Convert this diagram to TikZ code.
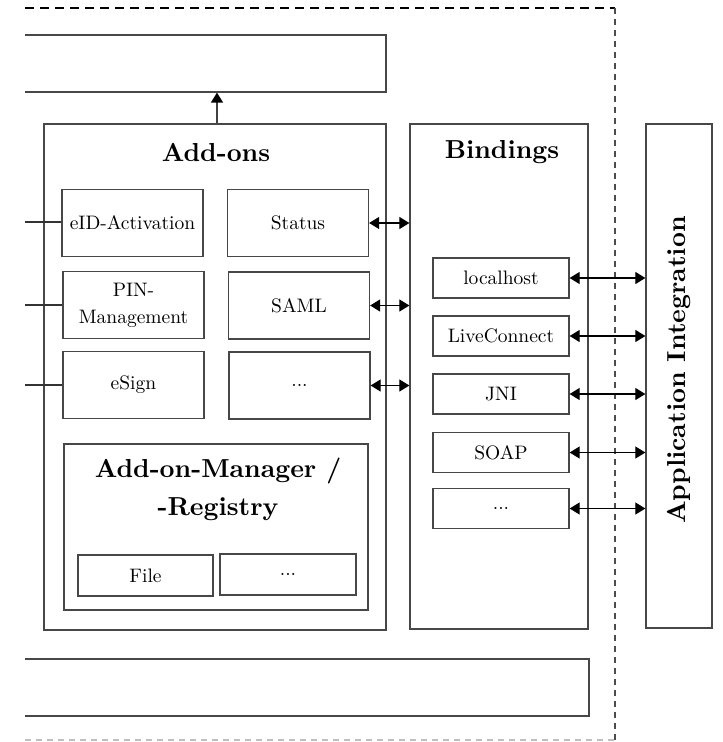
\documentclass[tikz,border=0pt]{standalone}
\usepackage{fontspec}
\setmainfont{lmroman10}[Extension=.otf,UprightFont=*-regular,BoldFont=*-bold,ItalicFont=*-italic,BoldItalicFont=*-bolditalic]
\usetikzlibrary{arrows.meta}
\begin{document}
\begin{tikzpicture}[x=1pt,y=-1pt,
  frame/.style={draw=black!72,line width=1.3pt},
  big/.style={font=\fontsize{26}{34}\selectfont\bfseries},
  small/.style={font=\fontsize{19.5}{27}\selectfont},
  part/.style={frame,small,minimum width=141pt,minimum height=67pt,inner sep=2pt,align=center},
  bind/.style={frame,small,minimum width=136pt,minimum height=40pt,inner sep=2pt},
  link/.style={draw=black,line width=1.2pt,{Triangle[length=10pt,width=12pt]}-{Triangle[length=10pt,width=12pt]}},
  up/.style={draw=black!75,line width=1.4pt,-{Triangle[length=10pt,width=12pt,fill=black,color=black]}}]
\useasboundingbox (0,0) rectangle (723,742);

% layer frames that continue past the left border
\begin{scope}
\clip (25,0) rectangle (723,742);
\node[frame,minimum width=381pt,minimum height=57pt] (toplayer) at (195.5,63.5) {};
\node[frame,minimum width=609pt,minimum height=57pt] (botlayer) at (284.5,687.5) {};
\end{scope}

% dashed boundary
\coordinate (bnw) at (25,8);
\coordinate (bne) at (615,8);
\coordinate (bse) at (615,742);
\coordinate (bsw) at (25,740);
\coordinate (bsc) at (615,740);
\draw[black,line width=1.2pt,dash pattern=on 9pt off 6pt] (bnw) -- (bne);
\draw[black!70,line width=1.3pt,dash pattern=on 6pt off 5pt] (bne) -- (bse);
\draw[black!25,line width=1.2pt,dash pattern=on 6pt off 5pt] (bsw) -- (bsc);

% main columns
\node[frame,minimum width=342pt,minimum height=506pt] (addons) at (215,377) {};
\node[big] at (216,152) {Add-ons};
\node[frame,minimum width=178pt,minimum height=505pt] (bindings) at (499,376.5) {};
\node[big] at (502,152) {Bindings};
\node[frame,minimum width=66pt,minimum height=504pt] (appint) at (679,376) {};
\node[big,rotate=90] at (679,370) {Application Integration};

% add-ons
\node[part] (eid) at (132.5,223) {eID-Activation};
\node[part] (status) at (298,223) {Status};
\node[part] (pin) at (133.5,305) {PIN-\\Management};
\node[part] (saml) at (299,305.5) {SAML};
\node[part] (esign) at (133.5,385) {eSign};
\node[part] (moreaddons) at (299.5,385.5) {...};

% add-on manager / registry
\node[frame,minimum width=304pt,minimum height=166pt] (manager) at (216,527) {};
\node[big,align=center,font=\fontsize{26}{38}\selectfont\bfseries] at (218,489) {Add-on-Manager /\\-Registry};
\node[frame,small,minimum width=135pt,minimum height=41pt] (file) at (145.5,575.5) {File};
\node[frame,small,minimum width=136pt,minimum height=41pt] (moremgr) at (288,574.5) {...};

% bindings
\node[bind] (localhost) at (501,278) {localhost};
\node[bind] (liveconnect) at (501,336) {LiveConnect};
\node[bind] (jni) at (501,394) {JNI};
\node[bind] (soap) at (501,452.5) {SOAP};
\node[bind] (morebind) at (501,508.5) {...};

% connectors
\draw[up] (addons.north -| 217,0) -- (toplayer.south -| 217,0);
\coordinate (eidin) at (25,222);
\coordinate (pinin) at (25,305);
\coordinate (esignin) at (25,385);
\draw[black!80,line width=1.2pt] (eidin) -- (eid.west |- eidin);
\draw[black!80,line width=1.2pt] (pinin) -- (pin.west |- pinin);
\draw[black!80,line width=1.2pt] (esignin) -- (esign.west |- esignin);

\draw[link] (status.east) -- (status.east -| bindings.west);
\draw[link] (saml.east) -- (saml.east -| bindings.west);
\draw[link] (moreaddons.east) -- (moreaddons.east -| bindings.west);

\foreach \b in {localhost,liveconnect,jni,soap,morebind}
  \draw[link] (\b.east) -- (\b.east -| appint.west);
\end{tikzpicture}
\end{document}
